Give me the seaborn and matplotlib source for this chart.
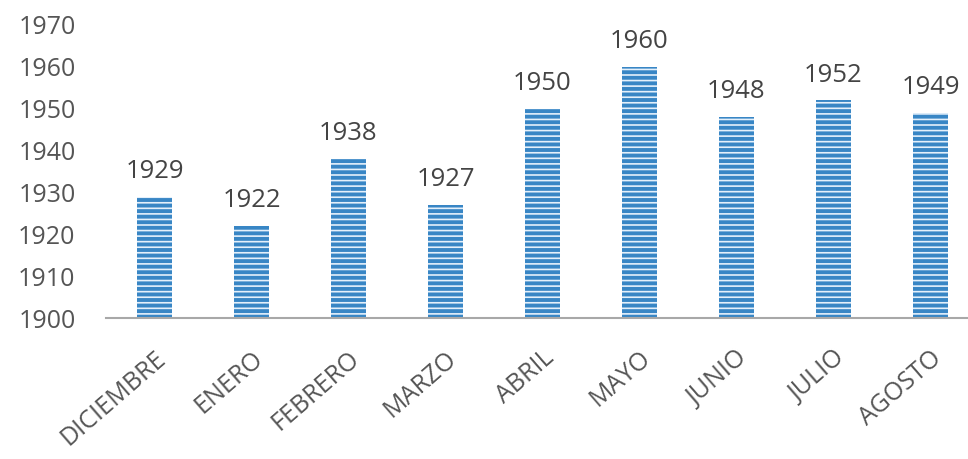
import pandas as pd
import matplotlib
matplotlib.use("Agg")
import matplotlib.pyplot as plt
import seaborn as sns

# chart data
months = ["DICIEMBRE", "ENERO", "FEBRERO", "MARZO", "ABRIL",
          "MAYO", "JUNIO", "JULIO", "AGOSTO"]
values = [1929, 1922, 1938, 1927, 1950, 1960, 1948, 1952, 1949]
y_ticks = [1900, 1910, 1920, 1930, 1940, 1950, 1960, 1970]
base = 1900

df = pd.DataFrame({"mes": months, "valor": values})

sns.set_style("white")
plt.rcParams["font.family"] = ["Open Sans", "DejaVu Sans"]
plt.rcParams["hatch.linewidth"] = 1.2

fig = plt.figure(figsize=(9.68, 4.59), dpi=100)
ax = fig.add_axes([106 / 968, (459 - 318) / 459, 873 / 968, (318 - 25) / 459])

sns.barplot(
    data=df,
    x="mes",
    y="valor",
    color="#2088dc",
    width=0.36,
    ax=ax,
)

# bars start at the axis floor, striped like the scan
for bar in ax.patches:
    h = bar.get_height()
    bar.set_y(base)
    bar.set_height(h - base)
    bar.set_hatch("---")
    bar.set_edgecolor("#e4f0fb")
    bar.set_linewidth(0)

ax.set_ylim(base, 1970)
ax.set_yticks(y_ticks)
ax.set_yticklabels([str(t) for t in y_ticks], fontsize=18, color="#555555")

# value labels
for i, v in enumerate(values):
    ax.text(i, v + 4.5, str(v), ha="center", va="baseline",
            fontsize=18.5, color="#444444")

ax.set_xticks(range(len(months)))
ax.set_xticklabels(months, rotation=41, ha="right", rotation_mode="anchor",
                   fontsize=18, color="#555555")

ax.tick_params(axis="both", length=0)
ax.tick_params(axis="y", pad=22)
ax.tick_params(axis="x", pad=20)

ax.set_xlabel("")
ax.set_ylabel("")
sns.despine(ax=ax, left=True, right=True, top=True)
ax.spines["bottom"].set_color("#a8a8a8")
ax.spines["bottom"].set_linewidth(1.5)

fig.savefig("out.png", dpi=100)
plt.close()
